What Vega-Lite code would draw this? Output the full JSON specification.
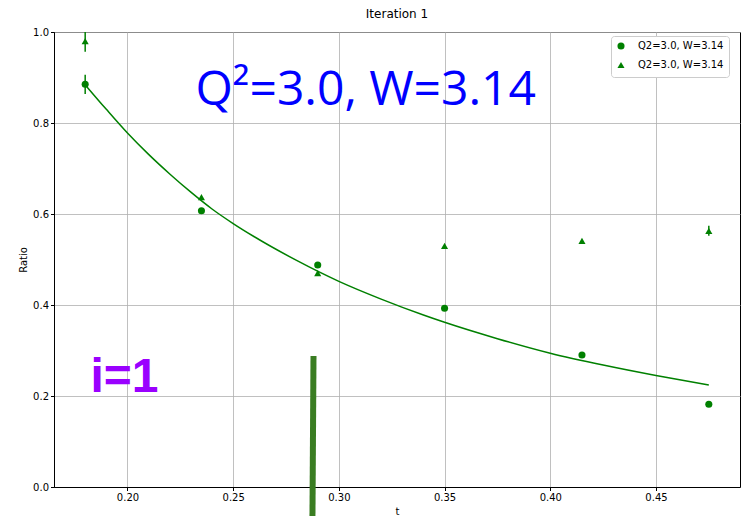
{
  "$schema": "https://vega.github.io/schema/vega-lite/v6.json",
  "width": 686,
  "height": 455,
  "autosize": {"type": "none"},
  "padding": {"left": 54, "top": 32, "right": 1, "bottom": 29},
  "background": "white",
  "title": {"text": "Iteration 1", "fontSize": 12, "fontWeight": "normal", "font": "DejaVu Sans", "color": "black", "offset": 6},
  "config": {
    "view": {"stroke": "black", "strokeWidth": 1},
    "axis": {
      "labelFont": "DejaVu Sans", "labelFontSize": 10, "labelColor": "black",
      "titleFont": "DejaVu Sans", "titleFontSize": 10, "titleFontWeight": "normal", "titleColor": "black",
      "tickColor": "black", "tickSize": 3.5, "domainColor": "black",
      "gridColor": "#b0b0b0", "gridWidth": 0.8, "labelPadding": 2
    }
  },
  "datasets": {
    "curve": [
      {"t": 0.180, "ratio": 0.884},
      {"t": 0.190, "ratio": 0.830},
      {"t": 0.200, "ratio": 0.778},
      {"t": 0.210, "ratio": 0.731},
      {"t": 0.220, "ratio": 0.688},
      {"t": 0.230, "ratio": 0.648},
      {"t": 0.240, "ratio": 0.611},
      {"t": 0.250, "ratio": 0.579},
      {"t": 0.260, "ratio": 0.550},
      {"t": 0.280, "ratio": 0.498},
      {"t": 0.300, "ratio": 0.452},
      {"t": 0.320, "ratio": 0.413},
      {"t": 0.340, "ratio": 0.378},
      {"t": 0.350, "ratio": 0.362},
      {"t": 0.375, "ratio": 0.326},
      {"t": 0.400, "ratio": 0.294},
      {"t": 0.425, "ratio": 0.268},
      {"t": 0.450, "ratio": 0.245},
      {"t": 0.475, "ratio": 0.224}
    ],
    "points": [
      {"series": "a", "t": 0.18, "ratio": 0.885, "lo": 0.864, "hi": 0.906},
      {"series": "a", "t": 0.235, "ratio": 0.607, "lo": 0.607, "hi": 0.607},
      {"series": "a", "t": 0.29, "ratio": 0.488, "lo": 0.488, "hi": 0.488},
      {"series": "a", "t": 0.35, "ratio": 0.393, "lo": 0.393, "hi": 0.393},
      {"series": "a", "t": 0.415, "ratio": 0.290, "lo": 0.290, "hi": 0.290},
      {"series": "a", "t": 0.475, "ratio": 0.182, "lo": 0.182, "hi": 0.182},
      {"series": "b", "t": 0.18, "ratio": 0.980, "lo": 0.9565, "hi": 1.0035},
      {"series": "b", "t": 0.235, "ratio": 0.637, "lo": 0.637, "hi": 0.637},
      {"series": "b", "t": 0.29, "ratio": 0.470, "lo": 0.470, "hi": 0.470},
      {"series": "b", "t": 0.35, "ratio": 0.530, "lo": 0.530, "hi": 0.530},
      {"series": "b", "t": 0.415, "ratio": 0.541, "lo": 0.541, "hi": 0.541},
      {"series": "b", "t": 0.475, "ratio": 0.563, "lo": 0.552, "hi": 0.574}
    ],
    "bar": [{"t": 0.2880, "ratio": 0.288, "t2": 0.2875, "ratio2": -0.07}],
    "big": [{"t": 0.3127, "ratio": 0.84, "label": "Q²=3.0, W=3.14"}],
    "iter": [{"t": 0.1825, "ratio": 0.209, "label": "i=1"}]
  },
  "layer": [
    {
      "data": {"name": "curve"},
      "mark": {"type": "line", "color": "#008000", "strokeWidth": 1.5, "interpolate": "monotone", "clip": true},
      "encoding": {
        "x": {"field": "t", "type": "quantitative",
              "scale": {"domain": [0.16525, 0.48975], "nice": false, "zero": false},
              "axis": {"title": "t", "values": [0.2, 0.25, 0.3, 0.35, 0.4, 0.45], "format": ".2f", "grid": true}},
        "y": {"field": "ratio", "type": "quantitative",
              "scale": {"domain": [0, 1], "nice": false},
              "axis": {"title": "Ratio", "values": [0, 0.2, 0.4, 0.6, 0.8, 1.0], "format": ".1f", "grid": true}}
      }
    },
    {
      "data": {"name": "points"},
      "mark": {"type": "rule", "color": "#008000", "strokeWidth": 1.5, "clip": true},
      "encoding": {
        "x": {"field": "t", "type": "quantitative"},
        "y": {"field": "lo", "type": "quantitative"},
        "y2": {"field": "hi"}
      }
    },
    {
      "data": {"name": "points"},
      "mark": {"type": "point", "filled": true, "color": "#008000", "opacity": 1, "size": 50},
      "encoding": {
        "x": {"field": "t", "type": "quantitative"},
        "y": {"field": "ratio", "type": "quantitative"},
        "shape": {"field": "series", "type": "nominal",
                  "scale": {"domain": ["a", "b"], "range": ["circle", "triangle-up"]},
                  "legend": {"title": null, "orient": "none", "legendX": 557, "legendY": 4,
                             "labelExpr": "'Q2=3.0, W=3.14'", "labelFont": "DejaVu Sans", "labelFontSize": 10,
                             "labelColor": "black", "fillColor": "white", "strokeColor": "#cccccc",
                             "padding": 5, "cornerRadius": 3, "symbolSize": 50, "symbolFillColor": "#008000",
                             "symbolStrokeColor": "#008000", "rowPadding": 5, "labelOffset": 12}}
      }
    },
    {
      "data": {"name": "bar"},
      "mark": {"type": "rule", "color": "#3a7d22", "strokeWidth": 6, "clip": false},
      "encoding": {
        "x": {"field": "t", "type": "quantitative"},
        "y": {"field": "ratio", "type": "quantitative"},
        "x2": {"field": "t2"},
        "y2": {"field": "ratio2"}
      }
    },
    {
      "data": {"name": "big"},
      "mark": {"type": "text", "color": "#0000ff", "font": "Open Sans", "fontSize": 48, "align": "center", "baseline": "alphabetic"},
      "encoding": {
        "x": {"field": "t", "type": "quantitative"},
        "y": {"field": "ratio", "type": "quantitative"},
        "text": {"field": "label"}
      }
    },
    {
      "data": {"name": "iter"},
      "mark": {"type": "text", "color": "#9a00ff", "font": "Liberation Sans", "fontWeight": "bold", "fontSize": 48, "align": "left", "baseline": "alphabetic"},
      "encoding": {
        "x": {"field": "t", "type": "quantitative"},
        "y": {"field": "ratio", "type": "quantitative"},
        "text": {"field": "label"}
      }
    }
  ]
}
